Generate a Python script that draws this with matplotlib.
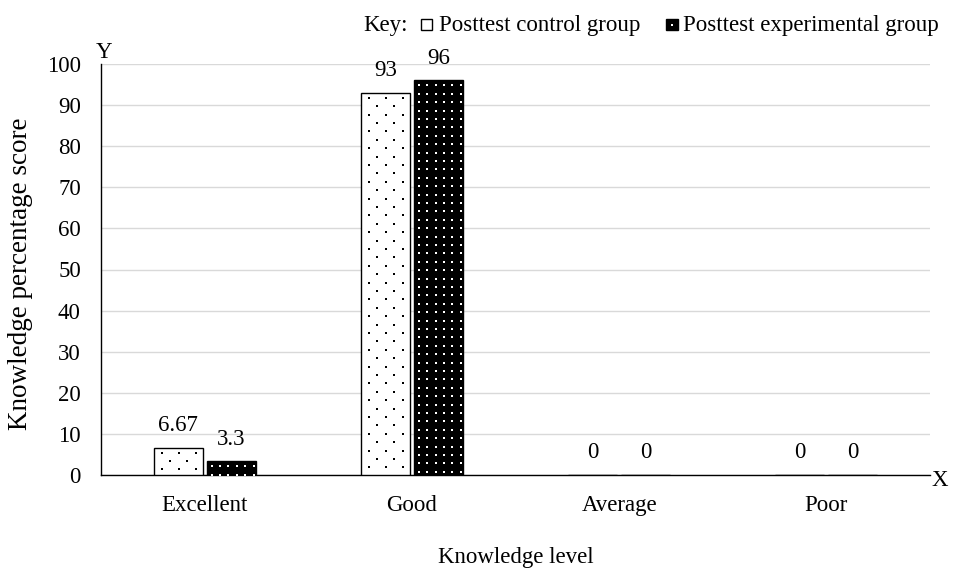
import numpy as np
import matplotlib.pyplot as plt
from matplotlib.patches import Rectangle

plt.rcParams['font.family'] = ['Liberation Serif', 'DejaVu Serif']

levels = ["Excellent", "Good", "Average", "Poor"]
control = [6.67, 93, 0, 0]
experimental = [3.3, 96, 0, 0]
control_labels = ["6.67", "93", "0", "0"]
experimental_labels = ["3.3", "96", "0", "0"]
series_names = ["Posttest control group", "Posttest experimental group"]

FS = 16.5
W, H = 956, 569

fig = plt.figure(figsize=(9.56, 5.69), dpi=100)
ax = fig.add_axes([101 / W, 1 - 475 / H, 829 / W, 411 / H])
ax.set_xlim(-0.5, 3.5)
ax.set_ylim(0, 100)

px_x = 4.0 / 829    # data units per pixel along x
px_y = 100.0 / 411  # data units per pixel along y


def dot_fill(bar, dx, dy, x_off, stagger, color):
    """Scatter a grid of tiny square dots inside a bar, clipped to it."""
    x0, w, h = bar.get_x(), bar.get_width(), bar.get_height()
    if h <= 0:
        return
    xs, ys = [], []
    for r, yy in enumerate(np.arange(h - dy * 0.6, 0, -dy)):
        shift = stagger if r % 2 else 0.0
        for xx in np.arange(x0 + x_off + shift, x0 + w, 2 * stagger if stagger else dx):
            xs.append(xx)
            ys.append(yy)
    sc = ax.scatter(xs, ys, s=2.2, marker="s", color=color, linewidths=0, zorder=3.5)
    sc.set_clip_path(bar)


x = np.arange(len(levels))
w = 49 * px_x
gap = 2 * px_x

bars_c = ax.bar(x - w / 2 - gap, control, w, color="white", edgecolor="black",
                linewidth=1.0, zorder=3)
bars_e = ax.bar(x + w / 2 + gap, experimental, w, color="black", edgecolor="black",
                linewidth=1.0, zorder=3)

for b in bars_c:
    dot_fill(b, 17 * px_x, 8.4 * px_y, 8 * px_x, 8.5 * px_x, "black")
for b in bars_e:
    dot_fill(b, 8.4 * px_x, 8.4 * px_y, 5 * px_x, 0, "white")

for i in range(len(levels)):
    ax.annotate(control_labels[i], (x[i] - w / 2 - gap, control[i]),
                xytext=(0, 12), textcoords="offset points",
                ha="center", va="baseline", fontsize=FS)
    ax.annotate(experimental_labels[i], (x[i] + w / 2 + gap, experimental[i]),
                xytext=(0, 12), textcoords="offset points",
                ha="center", va="baseline", fontsize=FS)

ax.set_yticks(range(0, 101, 10))
ax.set_xticks(x)
ax.set_xticklabels(levels)
ax.tick_params(axis="both", length=0, labelsize=FS)
ax.tick_params(axis="y", pad=14.5)
ax.tick_params(axis="x", pad=14.5)
ax.grid(axis="y", color="#d9d9d9", linewidth=1.0, zorder=0)
ax.set_axisbelow(True)
for side in ["top", "right"]:
    ax.spines[side].set_visible(False)
ax.spines["left"].set_linewidth(1.0)
ax.spines["bottom"].set_linewidth(1.0)

ax.set_xlabel("Knowledge level", fontsize=FS)
ax.xaxis.label.set_va("baseline")
ax.xaxis.set_label_coords(0.5, (475 - 563) / 411)
ax.set_ylabel("Knowledge percentage score", fontsize=19.5)
ax.yaxis.set_label_coords((33 - 101) / 829, (475 - 274) / 411)

fig.text(103.5 / W, 1 - 58 / H, "Y", ha="center", va="baseline", fontsize=FS)
fig.text(932 / W, 1 - 486 / H, "X", ha="left", va="baseline", fontsize=FS)


# key row along the top: "Key:" then a swatch and name per series
def fig_rect(x0, y0, x1, y1, **kw):
    r = Rectangle((x0 / W, 1 - y1 / H), (x1 - x0) / W, (y1 - y0) / H,
                  transform=fig.transFigure, **kw)
    fig.add_artist(r)


base = 1 - 30.5 / H
fig.text(363 / W, base, "Key:", fontsize=FS, ha="left", va="baseline")
fig_rect(421, 19, 432, 30, facecolor="white", edgecolor="black", linewidth=1.0)
fig.text(439 / W, base, series_names[0], fontsize=FS, ha="left", va="baseline")
fig_rect(666, 19, 678, 30, facecolor="black", edgecolor="black", linewidth=1.0)
fig_rect(671, 23.5, 673, 25.5, facecolor="white", edgecolor="none")
fig.text(683 / W, base, series_names[1], fontsize=FS, ha="left", va="baseline")

fig.savefig("out.png", dpi=100)
